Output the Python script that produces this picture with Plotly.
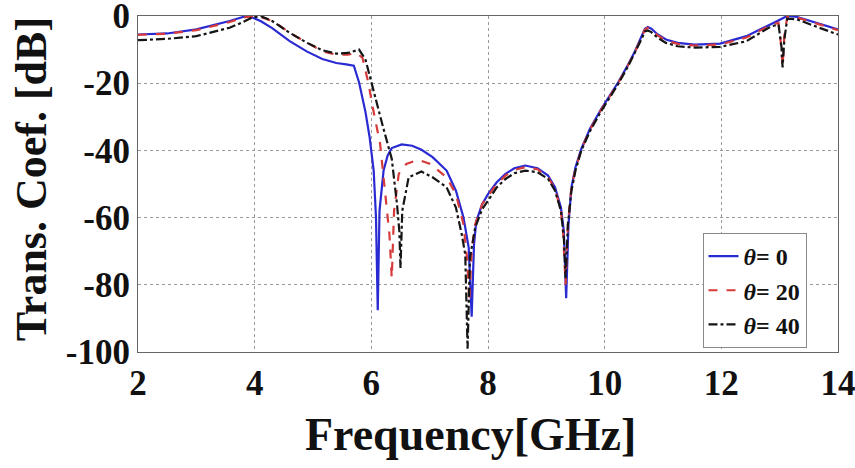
import plotly.graph_objects as go

# ---- data ----
freq_t0 = [2.0, 2.5, 3.0, 3.3, 3.57, 3.8, 3.9, 4.1, 4.3, 4.6, 4.9, 5.16, 5.4, 5.57, 5.7, 5.79, 5.9, 5.97,
           6.04, 6.08, 6.11, 6.14, 6.21, 6.28, 6.35, 6.52, 6.7, 6.86, 7.05, 7.29, 7.45, 7.58, 7.67, 7.72,
           7.76, 7.8, 7.9, 8.0, 8.15, 8.3, 8.45, 8.64, 8.85, 9.03, 9.15, 9.25, 9.3, 9.34, 9.38, 9.43, 9.5,
           9.6, 9.75, 9.94, 10.1, 10.23, 10.4, 10.52, 10.62, 10.69, 10.74, 10.8, 10.91, 11.05, 11.25, 11.54,
           11.98, 12.43, 12.84, 13.0, 13.13, 13.3, 13.6, 13.8, 14.0]
tc_t0 = [-5.5, -5.2, -4.0, -2.8, -1.5, -0.3, 0.0, -1.5, -3.6, -7.5, -10.6, -12.8, -14.0, -14.4, -14.8, -19.8,
         -28.6, -36.0, -46.0, -60.0, -87.6, -58.0, -46.0, -41.5, -39.3, -38.2, -38.6, -39.8, -42.0, -46.0,
         -52.0, -60.0, -69.0, -89.5, -68.0, -61.0, -56.0, -53.0, -49.5, -47.0, -45.3, -44.5, -45.3, -47.5,
         -51.0, -57.0, -64.0, -84.0, -62.0, -51.0, -45.0, -39.5, -33.5, -27.7, -23.5, -19.8, -14.5, -10.5,
         -6.5, -3.8, -3.3, -3.8, -5.5, -7.0, -8.0, -8.5, -8.2, -6.0, -2.5, -1.0, 0.0, -0.3, -1.8, -2.8, -4.0]

freq_t20 = [2.0, 2.5, 3.0, 3.3, 3.57, 3.8, 4.0, 4.2, 4.4, 4.6, 4.9, 5.16, 5.4, 5.6, 5.75, 5.85, 5.95, 6.03,
            6.15, 6.25, 6.31, 6.35, 6.39, 6.47, 6.6, 6.81, 7.0, 7.15, 7.29, 7.45, 7.58, 7.64, 7.68, 7.72,
            7.78, 7.9, 8.0, 8.15, 8.3, 8.45, 8.64, 8.85, 9.03, 9.15, 9.25, 9.29, 9.33, 9.37, 9.43, 9.5, 9.6,
            9.75, 9.94, 10.1, 10.23, 10.4, 10.52, 10.62, 10.69, 10.74, 10.8, 10.91, 11.05, 11.25, 11.54,
            11.98, 12.43, 12.84, 12.98, 13.02, 13.05, 13.08, 13.13, 13.3, 13.6, 13.8, 14.0]
tc_t20 = [-5.6, -5.3, -4.2, -3.0, -1.8, -0.5, 0.0, -0.8, -2.5, -5.0, -8.0, -10.5, -11.5, -11.5, -11.0, -12.5,
          -20.0, -27.7, -38.0, -54.0, -65.0, -78.0, -58.0, -47.0, -44.0, -42.8, -44.0, -46.0, -48.0, -53.0,
          -62.0, -72.0, -85.0, -70.0, -62.0, -56.0, -53.5, -50.0, -47.5, -45.8, -45.0, -45.6, -48.0, -51.5,
          -58.0, -65.0, -80.0, -62.0, -51.0, -45.5, -39.8, -33.8, -27.9, -23.7, -20.0, -14.7, -10.7, -6.8,
          -4.0, -3.5, -4.0, -5.8, -7.3, -8.3, -8.8, -8.5, -6.4, -2.8, -2.0, -8.0, -15.0, -6.0, -0.3, -0.5,
          -2.0, -3.0, -4.2]

freq_t40 = [2.0, 2.5, 3.0, 3.3, 3.57, 3.8, 3.95, 4.1, 4.3, 4.6, 4.9, 5.16, 5.4, 5.6, 5.79, 5.9, 6.03, 6.2,
            6.35, 6.44, 6.48, 6.5, 6.53, 6.64, 6.86, 7.05, 7.29, 7.45, 7.55, 7.61, 7.65, 7.69, 7.78, 7.9,
            8.0, 8.15, 8.3, 8.45, 8.64, 8.85, 9.03, 9.15, 9.25, 9.3, 9.33, 9.37, 9.43, 9.5, 9.6, 9.75, 9.94,
            10.1, 10.23, 10.4, 10.52, 10.62, 10.69, 10.74, 10.8, 10.91, 11.05, 11.25, 11.54, 11.98, 12.43,
            12.84, 12.98, 13.03, 13.05, 13.08, 13.13, 13.3, 13.6, 13.8, 14.0]
tc_t40 = [-7.2, -6.8, -6.0, -4.8, -3.5, -1.8, -0.5, 0.0, -1.5, -5.0, -8.0, -10.2, -11.2, -11.0, -10.0, -13.0,
          -21.8, -33.0, -42.5, -56.0, -64.0, -75.0, -58.0, -48.0, -46.3, -48.0, -51.0, -57.0, -65.0, -71.0,
          -99.0, -72.0, -63.0, -57.5, -55.0, -51.0, -48.5, -46.8, -46.0, -46.5, -48.5, -52.0, -58.0, -66.0,
          -78.0, -62.0, -52.0, -46.0, -40.0, -34.2, -28.3, -24.0, -20.3, -15.0, -11.0, -7.3, -4.6, -4.3, -4.8,
          -6.5, -8.0, -9.0, -9.4, -9.2, -7.5, -3.2, -2.5, -9.0, -15.3, -7.0, -0.8, -1.0, -3.0, -4.2, -5.5]

legend_names = ["<i>θ</i>= 0", "<i>θ</i>= 20", "<i>θ</i>= 40"]
x_ticks = [2, 4, 6, 8, 10, 12, 14]
y_ticks = [0, -20, -40, -60, -80, -100]

SERIF = "Liberation Serif"

fig = go.Figure()
fig.add_trace(go.Scatter(x=freq_t0, y=tc_t0, mode="lines", name=legend_names[0],
                         line=dict(color="#2a2ad2", width=2.2, dash="solid")))
fig.add_trace(go.Scatter(x=freq_t20, y=tc_t20, mode="lines", name=legend_names[1],
                         line=dict(color="#d63a3a", width=2.2, dash="dash")))
fig.add_trace(go.Scatter(x=freq_t40, y=tc_t40, mode="lines", name=legend_names[2],
                         line=dict(color="#151515", width=2.2, dash="dashdot")))

axis_common = dict(
    showgrid=True, gridcolor="#9a9a9a", griddash="dot", gridwidth=1,
    showline=True, mirror=True, linecolor="#666666", linewidth=1,
    zeroline=False, ticks="", automargin=False, ticklabeloverflow="allow",
    tickfont=dict(family=SERIF, size=35, color="#111111", weight="bold"),
)

fig.update_layout(
    width=855, height=468,
    margin=dict(l=138, r=17, t=16, b=116),
    paper_bgcolor="white", plot_bgcolor="white",
    xaxis=dict(range=[2, 14], tickvals=x_ticks, ticktext=[str(v) for v in x_ticks],
               ticklabelstandoff=0, **axis_common),
    yaxis=dict(range=[-100, 0], tickvals=y_ticks, ticktext=[str(v) for v in y_ticks], **axis_common),
    legend=dict(x=0.955, xanchor="right", y=0.012, yanchor="bottom",
                bgcolor="white", bordercolor="#8a8a8a", borderwidth=1,
                font=dict(family=SERIF, size=24, color="#111111", weight="bold"),
                itemwidth=30, tracegroupgap=0),
    showlegend=True,
    annotations=[
        dict(text="Frequency[GHz]", xref="paper", yref="paper", x=0.475, y=-0.245,
             xanchor="center", yanchor="middle", showarrow=False,
             font=dict(family=SERIF, size=46, color="#111111", weight="bold")),
        dict(text="Trans. Coef. [dB]", xref="paper", yref="paper", x=-0.152, y=0.513,
             xanchor="center", yanchor="middle", showarrow=False, textangle=-90,
             font=dict(family=SERIF, size=44, color="#111111", weight="bold")),
    ],
)

fig.write_html("out.html")
